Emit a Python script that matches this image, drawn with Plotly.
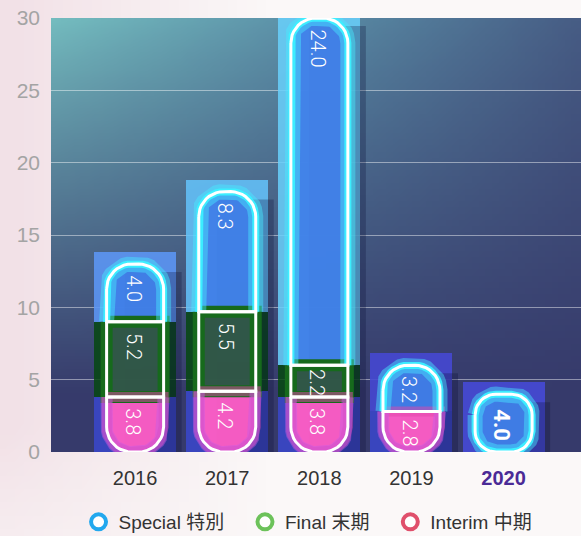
import math, zlib, struct, base64
import plotly.graph_objects as go

# ---------------- data ----------------
years = ["2016", "2017", "2018", "2019", "2020"]
interim = [3.8, 4.2, 3.8, 2.8, 0.0]
final = [5.2, 5.5, 2.2, 0.0, 0.0]
special = [4.0, 8.3, 24.0, 3.2, 4.0]
y_ticks = [0, 5, 10, 15, 20, 25, 30]
series_names = ["Interim 中期", "Final 末期", "Special 特別"]
legend_order = ["Special 特別", "Final 末期", "Interim 中期"]

# ---------------- geometry / style ----------------
W, H = 581, 536
ML, MR, MT, MB = 51, 0, 18, 84
XMIN, XMAX = -0.913, 4.84
YMIN, YMAX = 0, 30
PW, PH = W - ML - MR, H - MT - MB
PX_X = PW / (XMAX - XMIN)
PX_Y = PH / (YMAX - YMIN)

PILL_W = 57 / PX_X
BOX_W = 82 / PX_X
PAD = 12 / PX_Y
HW = PILL_W / 2
SH_DX, SH_DY = 18 / PX_X, 8 / PX_Y

box_colors = {
    "Interim 中期": ["rgba(58,72,205,0.85)"] * 5,
    "Final 末期": ["rgba(6,72,16,0.85)"] * 5,
    "Special 特別": ["rgba(92,150,246,0.88)", "rgba(100,195,252,0.85)", "rgba(105,208,252,0.85)",
                   "rgba(70,72,210,0.9)", "rgba(70,74,214,0.9)"],
}
fill_colors = {"Interim 中期": "#ff5ec4", "Final 末期": "#33584a", "Special 特別": "#4080e8"}
legend_colors = {"Special 特別": "#22a8ee", "Final 末期": "#6cc25a", "Interim 中期": "#e0506c"}


def make_png(w, h, fn):
    rows = bytearray()
    for j in range(h):
        rows.append(0)
        for i in range(w):
            r, g, b = fn(i / (w - 1), j / (h - 1))
            rows += bytes((int(r), int(g), int(b)))

    def chunk(t, d):
        return struct.pack(">I", len(d)) + t + d + struct.pack(">I", zlib.crc32(t + d) & 0xFFFFFFFF)

    png = (b"\x89PNG\r\n\x1a\n" + chunk(b"IHDR", struct.pack(">IIBBBBB", w, h, 8, 2, 0, 0, 0))
           + chunk(b"IDAT", zlib.compress(bytes(rows))) + chunk(b"IEND", b""))
    return "data:image/png;base64," + base64.b64encode(png).decode()


def hx(c):
    return tuple(int(c[k:k + 2], 16) for k in (1, 3, 5))


def lerp(a, b, t):
    return tuple(a[k] + (b[k] - a[k]) * t for k in range(3))


TOP_L, TOP_M, TOP_R = hx("#74bcbf"), hx("#5a8da6"), hx("#475d85")
BOT = hx("#363a6b")


def plot_bg(u, v):
    top = lerp(TOP_L, TOP_M, u / 0.5) if u < 0.5 else lerp(TOP_M, TOP_R, (u - 0.5) / 0.5)
    f = min(1.0, v / 0.88) ** 0.9
    return lerp(top, BOT, f)


PINK, WHITE = hx("#f2e1e7"), hx("#fbf8f8")


def page_bg(u, v):
    t = max(0.0, 1 - u * 2.2)
    t = t * (1 - 0.5 * max(0, v - 0.8) / 0.2)
    return lerp(WHITE, PINK, t)


plot_img = make_png(80, 70, plot_bg)
page_img = make_png(60, 40, page_bg)

xs = list(range(len(years)))
stack = {"Interim 中期": interim, "Final 末期": final, "Special 特別": special}
totals = [sum(stack[n][i] for n in series_names) for i in xs]

fig = go.Figure()

# glow boxes (bars)
for si, name in enumerate(series_names):
    vals = stack[name]
    bases, heights = [], []
    for i in xs:
        b = sum(stack[series_names[k]][i] for k in range(si))
        is_top = vals[i] > 0 and all(stack[series_names[k]][i] == 0 for k in range(si + 1, 3))
        bases.append(b)
        heights.append(vals[i] + (PAD if is_top else 0))
    fig.add_trace(go.Bar(x=xs, y=heights, base=bases, width=BOX_W,
                         marker=dict(color=box_colors[name], line=dict(width=0)),
                         showlegend=False, hoverinfo="skip"))


def arc(cx, cy, rx, ry, a0, a1, n=10):
    out = []
    for k in range(n + 1):
        a = math.radians(a0 + (a1 - a0) * k / n)
        out.append((cx + rx * math.cos(a), cy + ry * math.sin(a)))
    return out


def seg_path(c, y0, y1, rb, rt, skip=None):
    """Closed outline of a segment; skip='bottom' or 'top' leaves that edge open."""
    xl, xr = c - HW, c + HW
    rxb, ryb = rb / PX_X, rb / PX_Y
    rxt, ryt = rt / PX_X, rt / PX_Y
    top = arc(xl + rxt, y1 - ryt, rxt, ryt, 180, 90) + arc(xr - rxt, y1 - ryt, rxt, ryt, 90, 0)
    bot = arc(xr - rxb, y0 + ryb, rxb, ryb, 0, -90) + arc(xl + rxb, y0 + ryb, rxb, ryb, -90, -180)
    if skip == "bottom":
        return [(xl, y0)] + top + [(xr, y0)]
    if skip == "top":
        return [(xr, y1)] + bot + [(xl, y1)]
    pts = top + bot
    return pts + [pts[0]]


def add_path(store, p):
    store[0].extend([q[0] for q in p] + [None])
    store[1].extend([q[1] for q in p] + [None])


paths = {n: ([], []) for n in series_names}
glow_top = ([], [])
glow_bot = ([], [])
shadow = ([], [])
annots = []
TXT_LEN = 28
for i in xs:
    r = min(25, totals[i] * PX_Y * 0.36)
    nz = [n for n in series_names if stack[n][i] > 0]
    # drop shadow, offset right/down
    sx0, sx1, st = i - HW + SH_DX, i + HW + SH_DX, totals[i] - SH_DY
    add_path(shadow, [(sx0, 0), (sx0, st), (sx1, st), (sx1, 0), (sx0, 0)])
    b = 0.0
    for k, n in enumerate(nz):
        v = stack[n][i]
        first, last = k == 0, k == len(nz) - 1
        rb = r if first else 0
        rt = r if last else 0
        add_path(paths[n], seg_path(i, b, b + v, rb, rt))
        if n == "Special 特別":
            add_path(glow_top, seg_path(i, b, b + v, rb, rt, skip=None if first else "bottom"))
        if n == "Interim 中期":
            add_path(glow_bot, seg_path(i, b, b + v, rb, rt, skip=None if last else "top"))
        bold = len(nz) == 1
        seg_px = v * PX_Y
        shift = 13 if bold else min(9, max(1, (seg_px - TXT_LEN) / 2))
        annots.append(dict(x=i - 0.02, y=b + v, xref="x", yref="y",
                           text=(f"<b>{v:.1f}</b>" if bold else f"{v:.1f}"),
                           textangle=90, showarrow=False, yanchor="top", xanchor="center",
                           yshift=-shift,
                           font=dict(family="Roboto, Arial", size=(22 if bold else 20), color="white",
                                     weight=(700 if bold else 300))))
        b += v

# shadow (behind pills, over boxes)
fig.add_trace(go.Scatter(x=shadow[0], y=shadow[1], mode="none", fill="toself",
                         fillcolor="rgba(12,16,55,0.28)", showlegend=False, hoverinfo="skip"))
# fills
for n in series_names:
    fig.add_trace(go.Scatter(x=paths[n][0], y=paths[n][1], mode="none", fill="toself",
                             fillcolor=fill_colors[n], opacity=0.95, showlegend=False, hoverinfo="skip"))

# inner/outer glows
fig.add_trace(go.Scatter(x=paths["Final 末期"][0], y=paths["Final 末期"][1], mode="lines",
                         line=dict(color="#166a1c", width=12), showlegend=False, hoverinfo="skip"))
fig.add_trace(go.Scatter(x=paths["Interim 中期"][0], y=paths["Interim 中期"][1], mode="lines",
                         line=dict(color="rgba(225,70,170,0.5)", width=10), showlegend=False, hoverinfo="skip"))
fig.add_trace(go.Scatter(x=glow_bot[0], y=glow_bot[1], mode="lines",
                         line=dict(color="rgba(200,90,230,0.45)", width=12), showlegend=False, hoverinfo="skip"))
fig.add_trace(go.Scatter(x=glow_top[0], y=glow_top[1], mode="lines",
                         line=dict(color="rgba(70,235,255,0.45)", width=15), showlegend=False, hoverinfo="skip"))
fig.add_trace(go.Scatter(x=glow_top[0], y=glow_top[1], mode="lines",
                         line=dict(color="rgba(60,240,255,0.95)", width=7), showlegend=False, hoverinfo="skip"))
# white outlines
for n in series_names:
    fig.add_trace(go.Scatter(x=paths[n][0], y=paths[n][1], mode="lines",
                             line=dict(color="white", width=3), showlegend=False, hoverinfo="skip"))

# legend entries
NB = "\u00a0" * 3
for n in legend_order:
    fig.add_trace(go.Scatter(x=[None], y=[None], mode="markers", name=n + (NB if n != legend_order[-1] else ""),
                             marker=dict(symbol="circle", size=15, color="white",
                                         line=dict(color=legend_colors[n], width=4))))

ticktext = years[:-1] + [f"<b><span style='color:#4a2a96'>{years[-1]}</span></b>"]

fig.update_layout(
    width=W, height=H,
    margin=dict(l=ML, r=MR, t=MT, b=MB, pad=0, autoexpand=False),
    paper_bgcolor="#fbf8f8", plot_bgcolor="rgba(0,0,0,0)",
    barmode="overlay", bargap=0,
    font=dict(family="Liberation Sans, Arial", color="#333333"),
    showlegend=True,
    legend=dict(orientation="h", x=0.485, xanchor="center", yref="container", y=1 - 522 / H,
                yanchor="middle",
                font=dict(size=19, color="#333333", family="Liberation Sans, Noto Sans CJK TC"),
                itemwidth=30, bgcolor="rgba(0,0,0,0)", traceorder="normal"),
    xaxis=dict(range=[XMIN, XMAX], tickvals=xs, ticktext=ticktext, showgrid=False, zeroline=False,
               showline=False, ticks="", ticklabelstandoff=12, automargin=False,
               tickfont=dict(size=20, color="#333333", family="Liberation Sans, Arial"), fixedrange=True),
    yaxis=dict(range=[YMIN, YMAX], tickvals=y_ticks, showgrid=True, gridcolor="rgba(255,255,255,0.45)",
               gridwidth=1, zeroline=False, showline=False, ticks="", ticklabelstandoff=10, automargin=False,
               tickfont=dict(size=21, color="#a4a4a4", family="Liberation Sans, Arial"), fixedrange=True),
    annotations=annots,
    images=[
        dict(source=page_img, xref="paper", yref="paper", x=-ML / PW, y=1 + MT / PH,
             sizex=W / PW, sizey=H / PH, sizing="stretch", layer="below", xanchor="left", yanchor="top"),
        dict(source=plot_img, xref="paper", yref="paper", x=0, y=1, sizex=1, sizey=1,
             sizing="stretch", layer="below", xanchor="left", yanchor="top"),
    ],
)

fig.write_html("out.html", config={"displayModeBar": False},
               post_script="document.body.style.margin='0';document.body.style.overflow='hidden';")
